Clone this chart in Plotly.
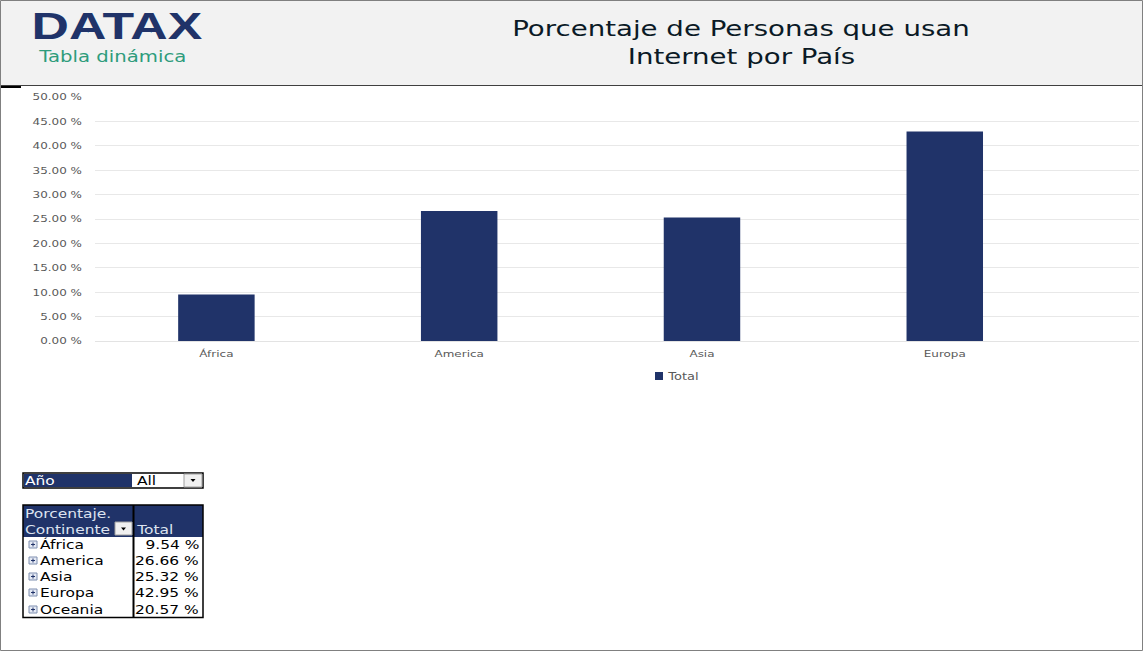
import plotly.graph_objects as go

categories = ["África", "America", "Asia", "Europa"]
values = [9.54, 26.66, 25.32, 42.95]
series_name = "Total"
tick_values = [0, 5, 10, 15, 20, 25, 30, 35, 40, 45, 50]
tick_labels = ["%.2f %%" % t for t in tick_values]
table_rows = ["África", "America", "Asia", "Europa", "Oceania"]
table_vals = ["9.54 %", "26.66 %", "25.32 %", "42.95 %", "20.57 %"]

W, H = 1143, 651
NAVY = "#203369"
FONT = "DejaVu Sans"


def X(p):
    return p / W


def Y(p):
    return 1 - p / H


shapes = []
annotations = []


def rect(x0, y0, x1, y1, fill="rgba(0,0,0,0)", line=None, lw=1, layer="above"):
    shapes.append(dict(type="rect", xref="paper", yref="paper", x0=X(x0), x1=X(x1), y0=Y(y0), y1=Y(y1),
                       fillcolor=fill, line=dict(color=line or "rgba(0,0,0,0)", width=lw if line else 0), layer=layer))


def seg(x0, y0, x1, y1, color, lw=1):
    shapes.append(dict(type="line", xref="paper", yref="paper", x0=X(x0), x1=X(x1), y0=Y(y0), y1=Y(y1),
                       line=dict(color=color, width=lw)))


def text(x, y, s, size, color="#000000", anchor="left", family=FONT, bold=False):
    annotations.append(dict(xref="paper", yref="paper", x=X(x), y=Y(y), text="<b>%s</b>" % s if bold else s,
                            showarrow=False, xanchor=anchor, yanchor="middle", align=anchor,
                            borderpad=0, borderwidth=0,
                            font=dict(size=size, color=color, family=family)))


# Header band
rect(1, 1, 1142, 85.5, fill="#F2F2F2", layer="below")
seg(0, 85.5, W, 85.5, "#404040", 1)
seg(1, 87, 21, 87, "#000000", 2)
rect(0.5, 0.5, 1142.5, 650.5, line="#808080", lw=1)

# Logo
text(116.5, 26, "DATAX", 37, NAVY, "center", "Liberation Sans", True)
text(38, 57, "Tabla dinámica", 15.5, "#2E9C7C", "left")
seg(85, 29, 89, 32, "#3FA9E0", 2)
seg(148, 29, 152, 32, "#3FA9E0", 2)

# Title
text(741, 29, "Porcentaje de Personas que usan", 21, "#0B1A26", "center")
text(741, 57, "Internet por País", 21, "#0B1A26", "center")

# Slicer
rect(23, 473, 203, 488, fill="#FFFFFF", line="#000000", lw=1.5)
rect(24, 474, 132, 487, fill=NAVY)
text(25, 480, "Año", 13, "#FFFFFF")
text(137, 480, "All", 13, "#000000")
rect(184, 474, 202, 487, fill="#F0F0F0", line="#A0A0A0", lw=1)
shapes.append(dict(type="path", xref="paper", yref="paper",
                   path="M %f %f L %f %f L %f %f Z" % (X(190.5), Y(479), X(195.5), Y(479), X(193), Y(482)),
                   fillcolor="#000000", line=dict(width=0)))

# Pivot table
rect(23, 505, 203, 537, fill=NAVY)
rect(23, 505, 203, 617.5, line="#000000", lw=1.5)
seg(133.5, 505, 133.5, 617.5, "#000000", 2)
text(25, 513, "Porcentaje.", 13, "#DDE3F0")
text(25, 529, "Continente", 13, "#DDE3F0")
text(136, 529, "Total", 13, "#DDE3F0")
rect(115, 522, 132, 535, fill="#F0F0F0", line="#A0A0A0", lw=1)
shapes.append(dict(type="path", xref="paper", yref="paper",
                   path="M %f %f L %f %f L %f %f Z" % (X(121), Y(527.5), X(126), Y(527.5), X(123.5), Y(530.5)),
                   fillcolor="#000000", line=dict(width=0)))
row_y = [544.5, 560.5, 576.5, 592.5, 609.5]
for yy, name, val in zip(row_y, table_rows, table_vals):
    rect(29, yy - 3.5, 37, yy + 3.5, fill="#E4E9F4", line="#7F8FB0", lw=1)
    seg(31, yy, 35, yy, NAVY, 1)
    seg(33, yy - 2, 33, yy + 2, NAVY, 1)
    text(40, yy, name, 13, "#000000")
    text(199, yy, val, 13, "#000000", "right")

# Legend
rect(655, 372, 663, 380, fill=NAVY)
text(667, 376, series_name, 10, "#595959")

fig = go.Figure(go.Bar(x=categories, y=values, name=series_name, width=0.315,
                       marker=dict(color=NAVY, line=dict(width=0)), showlegend=False))

fig.update_layout(
    width=W, height=H, margin=dict(l=0, r=0, t=0, b=0, autoexpand=False),
    paper_bgcolor="#FFFFFF", plot_bgcolor="#FFFFFF",
    font=dict(family=FONT, size=9.5, color="#595959"),
    shapes=shapes, annotations=annotations,
    xaxis=dict(domain=[X(95), X(1139)], range=[-0.5, 3.8], showgrid=False, showline=True,
               linecolor="#E3E3E3", linewidth=1.2, ticks="", tickfont=dict(size=9.5, color="#595959"),
               ticklabelstandoff=4, fixedrange=True),
    yaxis=dict(domain=[Y(341), Y(97)], range=[0, 50], tickvals=tick_values, ticktext=tick_labels,
               gridcolor="#E8E8E8", gridwidth=1.2, zeroline=False, showline=False, ticks="",
               tickfont=dict(size=9.5, color="#595959"), ticklabelstandoff=12, fixedrange=True),
)
post = """
document.body.style.margin='0';
var stretch = function(el, s){
  var b = el.getBBox(), a = el.getAttribute('text-anchor') || el.style.textAnchor || 'start';
  var ax = a === 'middle' ? b.x + b.width/2 : a === 'end' ? b.x + b.width : b.x;
  var t = el.getAttribute('transform') || '';
  el.setAttribute('transform', t + ' translate('+ax+',0) scale('+s+',1) translate('+(-ax)+',0)');
};
document.querySelectorAll('.annotation-text').forEach(function(el){
  var fs = parseFloat(el.style.fontSize) || 10, s = 1.19;
  if (fs > 30) s = 1.40; else if (fs > 20) s = 1.316; else if (fs > 15) s = 1.27; else if (fs < 11) s = 1.3;
  stretch(el, s);
});
document.querySelectorAll('.xtick text, .ytick text').forEach(function(el){ stretch(el, 1.26); });
"""
fig.write_html("out.html", config=dict(displayModeBar=False), post_script=post)
